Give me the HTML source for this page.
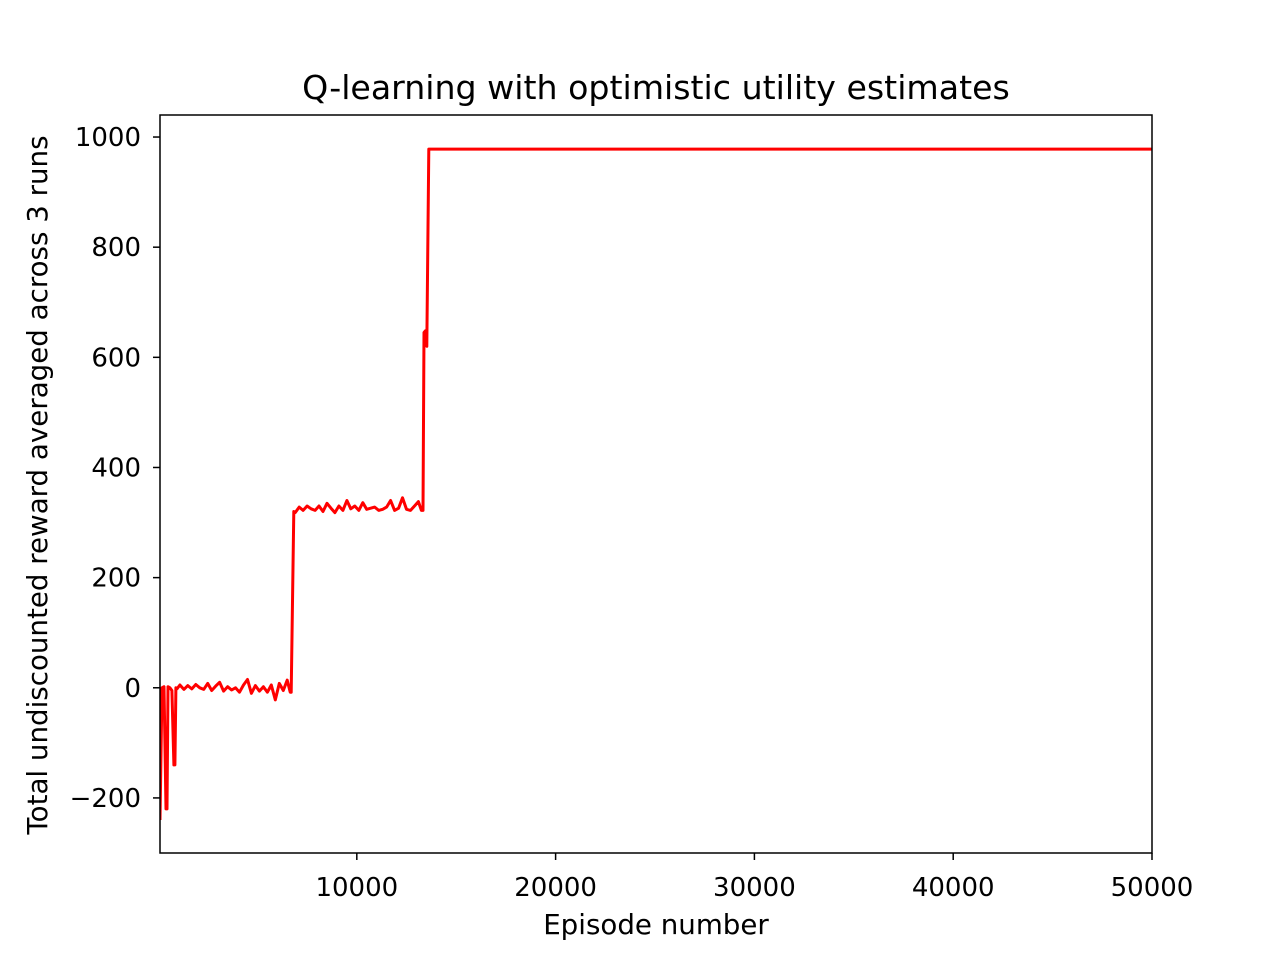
<!DOCTYPE html>
<html><head><meta charset="utf-8"><style>
body{margin:0;background:#fff;}
svg text{font-family:"DejaVu Sans","Liberation Sans",sans-serif;fill:#000;}
</style></head><body>
<svg id="chart" width="1280" height="960" xmlns="http://www.w3.org/2000/svg">
<rect width="1280" height="960" fill="#fff"/>
<text x="656" y="99" font-size="33.2" text-anchor="middle">Q-learning with optimistic utility estimates</text>
<text x="656" y="934" font-size="27.7" text-anchor="middle">Episode number</text>
<text transform="translate(47,485) rotate(-90)" font-size="27.7" text-anchor="middle">Total undiscounted reward averaged across 3 runs</text>
<g id="ticks"></g>
<clipPath id="clip"><rect x="160" y="115" width="992" height="738"/></clipPath>
<path id="line" clip-path="url(#clip)" fill="none" stroke="#ff0000" stroke-width="3" stroke-linejoin="round"/>
<rect x="160" y="115" width="992" height="738" fill="none" stroke="#000" stroke-width="1.5"/>
</svg>
<script>
const episodes=[100,200,300,400,450,500,600,700,800,850,900,950,1100,1300,1500,1700,1900,2100,2300,2500,2700,2900,3100,3300,3500,3700,3900,4100,4300,4500,4700,4900,5100,5300,5500,5700,5900,6100,6300,6500,6650,6700,6830,6900,7100,7300,7500,7700,7900,8100,8300,8500,8700,8900,9100,9300,9500,9700,9900,10100,10300,10500,10700,10900,11100,11300,11500,11700,11900,12100,12300,12500,12700,12900,13100,13250,13330,13380,13450,13520,13620,14000,30000,50000];
const rewards=[-240,0,2,-220,-220,2,0,-5,-140,-140,0,-2,5,-3,4,-2,6,0,-3,8,-5,3,10,-6,2,-4,0,-8,5,15,-10,4,-6,2,-8,5,-22,8,-5,14,-8,-8,320,318,328,322,330,325,322,330,320,335,326,318,330,322,340,325,330,322,336,324,326,328,322,324,328,340,322,326,345,324,322,330,338,322,322,645,648,620,978,978,978,978];
const xMin=100,xMax=50000,yMin=-300,yMax=1040;
const L=160,R=1152,T=115,B=853;
const xTicks=[10000,20000,30000,40000,50000];
const yTicks=[-200,0,200,400,600,800,1000];
const yLabels=["\u2212200","0","200","400","600","800","1000"];
function sx(v){return L+(v-xMin)/(xMax-xMin)*(R-L);}
function sy(v){return B-(v-yMin)/(yMax-yMin)*(B-T);}
const ns="http://www.w3.org/2000/svg",g=document.getElementById('ticks');
function mk(t,a){const e=document.createElementNS(ns,t);for(const k in a)e.setAttribute(k,a[k]);g.appendChild(e);return e;}
xTicks.forEach(v=>{const x=sx(v);
 const l=mk('line',{x1:x,x2:x,y1:B,y2:B+7,stroke:'#000','stroke-width':1.5});
 
 
 const t=mk('text',{x:x,y:B+43,'font-size':26,'text-anchor':'middle'});t.textContent=v;
 
 });
yTicks.forEach((v,i)=>{const y=sy(v);
 const l=mk('line',{x1:L-7,x2:L,y1:y,y2:y,stroke:'#000','stroke-width':1.5});
 
 
 const t=mk('text',{x:L-19,y:y+9,'font-size':26,'text-anchor':'end'});t.textContent=yLabels[i];
 
 });
document.getElementById('line').setAttribute('d',episodes.map((e,i)=>(i?'L':'M')+sx(e).toFixed(1)+','+sy(rewards[i]).toFixed(1)).join(''));
</script>
</body></html>
